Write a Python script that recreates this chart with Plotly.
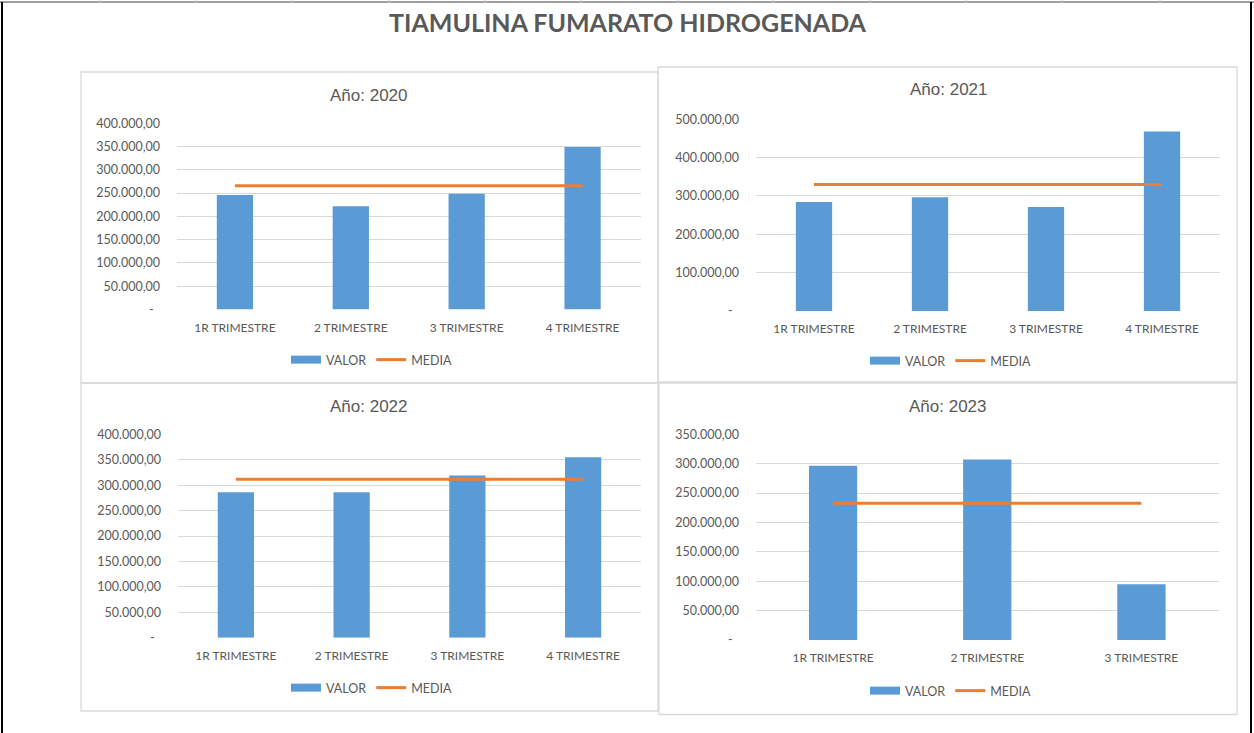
import plotly.graph_objects as go

# ---------------- data ----------------
CATS_4 = ["1R TRIMESTRE", "2 TRIMESTRE", "3 TRIMESTRE", "4 TRIMESTRE"]
CATS_3 = ["1R TRIMESTRE", "2 TRIMESTRE", "3 TRIMESTRE"]

VALOR_2020 = [246000, 222000, 248500, 349000]
MEDIA_2020 = [266000, 266000, 266000, 266000]

VALOR_2021 = [284000, 296500, 271000, 468500]
MEDIA_2021 = [330000, 330000, 330000, 330000]

VALOR_2022 = [286000, 286000, 319000, 355000]
MEDIA_2022 = [311500, 311500, 311500, 311500]

VALOR_2023 = [296500, 307000, 95000]
MEDIA_2023 = [232800, 232800, 232800]

YTICKS_2020 = [0, 50000, 100000, 150000, 200000, 250000, 300000, 350000, 400000]
YTICKS_2021 = [0, 100000, 200000, 300000, 400000, 500000]
YTICKS_2022 = [0, 50000, 100000, 150000, 200000, 250000, 300000, 350000, 400000]
YTICKS_2023 = [0, 50000, 100000, 150000, 200000, 250000, 300000, 350000]

TITLE = "TIAMULINA FUMARATO HIDROGENADA"
PANEL_TITLES = ["Año: 2020", "Año: 2021", "Año: 2022", "Año: 2023"]

# ---------------- styling / geometry ----------------
W, H = 1254, 733
BAR_COLOR = "#5B9BD5"
LINE_COLOR = "#ED7D31"
TEXT_COLOR = "#595959"
GRID_COLOR = "#D9D9D9"
FONT = "Lato"


def px(x):
    return x / W


def py(y):
    return 1 - y / H


def fmt(v):
    if v == 0:
        return "-\u00a0\u00a0"
    s = f"{v:,.2f}"
    return s.replace(",", "X").replace(".", ",").replace("X", ".")


panels = [
    dict(cats=CATS_4, valor=VALOR_2020, media=MEDIA_2020, ticks=YTICKS_2020,
         box=(81, 72, 658, 383), plot=(177, 123.3, 640.5, 309.5),
         title=(369, 95), legend=(372, 360)),
    dict(cats=CATS_4, valor=VALOR_2021, media=MEDIA_2021, ticks=YTICKS_2021,
         box=(658, 67, 1237, 382), plot=(756, 119.3, 1220, 311),
         title=(949, 90), legend=(951, 361)),
    dict(cats=CATS_4, valor=VALOR_2022, media=MEDIA_2022, ticks=YTICKS_2022,
         box=(81, 383, 658, 711), plot=(178, 434.3, 641, 637.7),
         title=(369, 406), legend=(372, 688)),
    dict(cats=CATS_3, valor=VALOR_2023, media=MEDIA_2023, ticks=YTICKS_2023,
         box=(659, 383, 1237, 714.5), plot=(756, 434.3, 1218.5, 640),
         title=(948, 406), legend=(951, 691)),
]

fig = go.Figure()
shapes = []
annotations = []
layout = {}

for i, p in enumerate(panels):
    n = "" if i == 0 else str(i + 1)
    xa, ya = "x" + n, "y" + n
    lg = "legend" + n
    fig.add_trace(go.Bar(x=p["cats"], y=p["valor"], name="VALOR",
                         marker=dict(color=BAR_COLOR, line=dict(width=0)),
                         xaxis=xa, yaxis=ya, legend=lg, showlegend=False))
    # legend entry for VALOR drawn as a wide block (as in the Excel legend)
    fig.add_trace(go.Scatter(x=[None], y=[None], name="VALOR", mode="lines",
                             line=dict(color=BAR_COLOR, width=8),
                             xaxis=xa, yaxis=ya, legend=lg, showlegend=True,
                             hoverinfo="skip"))
    fig.add_trace(go.Scatter(x=p["cats"], y=p["media"], name="MEDIA", mode="lines",
                             line=dict(color=LINE_COLOR, width=3),
                             xaxis=xa, yaxis=ya, legend=lg))
    x0, y0, x1, y1 = p["plot"]
    layout["xaxis" + n] = dict(domain=[px(x0), px(x1)], anchor=ya,
                               showgrid=False, zeroline=False, showline=False,
                               ticks="", ticklabelstandoff=9,
                               tickfont=dict(family=FONT, size=12, color=TEXT_COLOR),
                               fixedrange=True)
    layout["yaxis" + n] = dict(domain=[py(y1), py(y0)], anchor=xa,
                               range=[0, p["ticks"][-1]],
                               tickvals=p["ticks"], ticktext=[fmt(v) for v in p["ticks"]],
                               showgrid=True, gridcolor=GRID_COLOR, gridwidth=1,
                               zeroline=False, showline=False, ticks="",
                               ticklabelstandoff=16,
                               tickfont=dict(family=FONT, size=12.5, color=TEXT_COLOR),
                               fixedrange=True)
    lx, ly = p["legend"]
    layout[lg] = dict(x=px(lx), y=py(ly), xanchor="center", yanchor="middle",
                      orientation="h", bgcolor="rgba(0,0,0,0)",
                      font=dict(family=FONT, size=12.5, color=TEXT_COLOR),
                      itemwidth=30, tracegroupgap=0)
    bx0, by0, bx1, by1 = p["box"]
    shapes.append(dict(type="rect", xref="paper", yref="paper",
                       x0=px(bx0), x1=px(bx1), y0=py(by1), y1=py(by0),
                       line=dict(color=GRID_COLOR, width=1.3), layer="below"))
    tx, ty = p["title"]
    annotations.append(dict(text=PANEL_TITLES[i], x=px(tx), y=py(ty), xref="paper", yref="paper",
                            xanchor="center", yanchor="middle", showarrow=False,
                            font=dict(family="Liberation Sans", size=17, color=TEXT_COLOR)))

# main title
annotations.append(dict(text="<b>" + TITLE + "</b>", x=px(628), y=py(22), xref="paper", yref="paper",
                        xanchor="center", yanchor="middle", showarrow=False,
                        font=dict(family=FONT, size=25, color=TEXT_COLOR)))

# outer sheet frame
shapes.append(dict(type="line", xref="paper", yref="paper", x0=px(0), x1=px(1254), y0=py(2), y1=py(2),
                   line=dict(color="#808080", width=1.5)))
for cx in [100, 196, 292, 389, 485, 581, 678, 773, 870, 966, 1062, 1160]:
    shapes.append(dict(type="line", xref="paper", yref="paper", x0=px(cx), x1=px(cx), y0=py(0), y1=py(3),
                       line=dict(color="#C8C8C8", width=1)))
shapes.append(dict(type="line", xref="paper", yref="paper", x0=px(2), x1=px(2), y0=py(2), y1=py(733),
                   line=dict(color="#000000", width=2)))
shapes.append(dict(type="line", xref="paper", yref="paper", x0=px(1251), x1=px(1251), y0=py(2), y1=py(733),
                   line=dict(color="#000000", width=2)))

fig.update_layout(
    width=W, height=H, autosize=False,
    margin=dict(l=0, r=0, t=0, b=0, pad=0, autoexpand=False),
    paper_bgcolor="white", plot_bgcolor="rgba(0,0,0,0)",
    bargap=0.687,
    shapes=shapes, annotations=annotations,
    font=dict(family=FONT, color=TEXT_COLOR),
    **layout,
)

fig.write_html("out.html", config={"displayModeBar": False},
               post_script="document.body.style.margin='0';document.body.style.overflow='hidden';")
